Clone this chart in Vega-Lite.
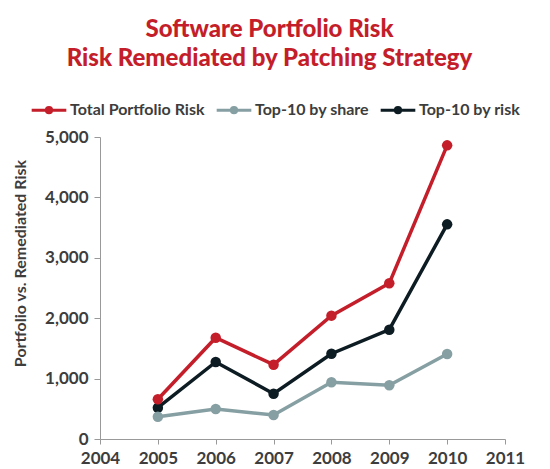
{
  "$schema": "https://vega.github.io/schema/vega-lite/v6.json",
  "width": 405,
  "height": 302,
  "autosize": {"type": "none"},
  "padding": {"left": 100, "top": 137, "right": 45, "bottom": 30},
  "background": "white",
  "config": {
    "view": {"stroke": null},
    "font": "Lato"
  },
  "title": {
    "text": ["Software Portfolio Risk", "Risk Remediated by Patching Strategy"],
    "color": "#c41e2a",
    "fontSize": 24,
    "font": "Lato",
    "fontWeight": 900,
    "lineHeight": 29,
    "anchor": "middle",
    "dx": -33,
    "offset": 20
  },
  "data": {
    "values": [
      {"year": 2005, "series": "Total Portfolio Risk", "risk": 657},
      {"year": 2006, "series": "Total Portfolio Risk", "risk": 1677},
      {"year": 2007, "series": "Total Portfolio Risk", "risk": 1230},
      {"year": 2008, "series": "Total Portfolio Risk", "risk": 2042},
      {"year": 2009, "series": "Total Portfolio Risk", "risk": 2578},
      {"year": 2010, "series": "Total Portfolio Risk", "risk": 4862},
      {"year": 2005, "series": "Top-10 by share", "risk": 369},
      {"year": 2006, "series": "Top-10 by share", "risk": 497},
      {"year": 2007, "series": "Top-10 by share", "risk": 397},
      {"year": 2008, "series": "Top-10 by share", "risk": 939},
      {"year": 2009, "series": "Top-10 by share", "risk": 889},
      {"year": 2010, "series": "Top-10 by share", "risk": 1407},
      {"year": 2005, "series": "Top-10 by risk", "risk": 518},
      {"year": 2006, "series": "Top-10 by risk", "risk": 1275},
      {"year": 2007, "series": "Top-10 by risk", "risk": 750},
      {"year": 2008, "series": "Top-10 by risk", "risk": 1412},
      {"year": 2009, "series": "Top-10 by risk", "risk": 1810},
      {"year": 2010, "series": "Top-10 by risk", "risk": 3554}
    ]
  },
  "mark": {"type": "line", "strokeWidth": 3.5, "point": {"filled": true, "size": 110, "opacity": 1}},
  "encoding": {
    "x": {
      "field": "year",
      "type": "quantitative",
      "scale": {"domain": [2004, 2011], "nice": false, "zero": false},
      "axis": {
        "title": null,
        "values": [2004, 2005, 2006, 2007, 2008, 2009, 2010, 2011],
        "format": "d",
        "grid": false,
        "domainColor": "#999999",
        "tickColor": "#999999",
        "tickSize": 5,
        "labelFontSize": 17,
        "labelFontWeight": "bold",
        "labelColor": "#3d3d3d",
        "labelPadding": 6,
        "labelFlush": false
      }
    },
    "y": {
      "field": "risk",
      "type": "quantitative",
      "scale": {"domain": [0, 5000], "nice": false},
      "axis": {
        "title": "Portfolio vs. Remediated Risk",
        "titleFontSize": 16,
        "titleFontWeight": "bold",
        "titleColor": "#3d3d3d",
        "titleX": -80,
        "titleY": 126,
        "titleAngle": -90,
        "titleAnchor": "middle",
        "titleBaseline": "middle",
        "values": [0, 1000, 2000, 3000, 4000, 5000],
        "format": ",d",
        "grid": false,
        "domainColor": "#999999",
        "tickColor": "#999999",
        "tickSize": 6,
        "labelFontSize": 17,
        "labelFontWeight": "bold",
        "labelColor": "#3d3d3d",
        "labelPadding": 6
      }
    },
    "color": {
      "field": "series",
      "type": "nominal",
      "sort": ["Total Portfolio Risk", "Top-10 by share", "Top-10 by risk"],
      "scale": {
        "domain": ["Total Portfolio Risk", "Top-10 by share", "Top-10 by risk"],
        "range": ["#c41e2a", "#869fa2", "#0d1b22"]
      },
      "legend": {
        "title": null,
        "orient": "none",
        "direction": "horizontal",
        "legendX": -70,
        "legendY": -46,
        "labelFontSize": 16,
        "labelFontWeight": "bold",
        "labelColor": "#3d3d3d",
        "symbolType": "M-1,0L1,0M-0.15,0A0.15,0.15 0 1,1 0.15,0A0.15,0.15 0 1,1 -0.15,0",
        "symbolSize": 1200,
        "symbolStrokeWidth": 3,
        "labelOffset": 2,
        "columnPadding": 5
      }
    },
    "order": {"field": "series"}
  }
}
